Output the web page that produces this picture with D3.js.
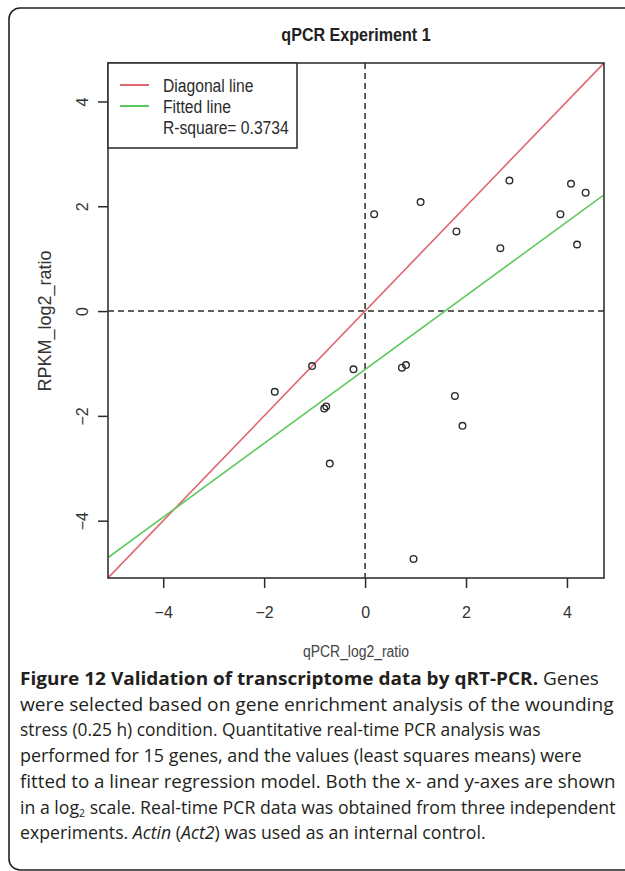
<!DOCTYPE html>
<html lang="en">
  <head>
    <meta charset="UTF-8" />
    <title>qPCR Experiment 1</title>
    <script src="https://cdn.jsdelivr.net/npm/d3@7"></script>
    <style>
      html, body { margin: 0; padding: 0; background: #fff; }
      svg { display: block; }
    </style>
  </head>
  <body>
    <div class="chart"></div>
    <script type="text/javascript">
      // qPCR log2 ratio (x) vs RPKM log2 ratio (y)
      var qpcrVals = [0.18, 1.10, 1.81, 2.86, 2.68, 3.87, 4.08, 4.37, 4.20, -1.05,
                      -0.23, 0.73, 0.81, 1.78, -1.79, -0.81, -0.77, 1.93, -0.70, 0.96]
      var rpkmVals = [1.85, 2.08, 1.52, 2.49, 1.20, 1.85, 2.43, 2.26, 1.27, -1.05,
                      -1.11, -1.08, -1.03, -1.62, -1.54, -1.86, -1.82, -2.19, -2.91, -4.73]
      var tickVals = [-4, -2, 0, 2, 4]
      var legendLabels = ['Diagonal line', 'Fitted line', 'R-square= 0.3734']
      var captionLines = [
        [['b', 'Figure 12 Validation of transcriptome data by qRT-PCR.'], ['n', ' Genes']],
        [['n', 'were selected based on gene enrichment analysis of the wounding']],
        [['n', 'stress (0.25 h) condition. Quantitative real-time PCR analysis was']],
        [['n', 'performed for 15 genes, and the values (least squares means) were']],
        [['n', 'fitted to a linear regression model. Both the x- and y-axes are shown']],
        [['n', 'in a log'], ['sub', '2'], ['n', ' scale. Real-time PCR data was obtained from three independent']],
        [['n', 'experiments. '], ['i', 'Actin'], ['n', ' ('], ['i', 'Act2'], ['n', ') was used as an internal control.']]
      ]
      // right edge of each caption line in the figure
      var captionEnds = [599, 614, 541, 582, 616, 616, 486]

      var W = 625, H = 871
      var plot = { left: 108, right: 604, top: 63, bottom: 578 }
      var ink = '#2b2b2b'
      var red = '#e0656f', green = '#5dc95d'
      var plotFont = '"Liberation Sans", Arial, sans-serif'

      var svg = d3.select('.chart').append('svg').attr('width', W).attr('height', H)

      // outer frame (right side runs off the page)
      svg.append('rect')
        .attr('x', 9).attr('y', 8).attr('width', 700).attr('height', 862)
        .attr('rx', 11).attr('fill', 'none').attr('stroke', '#222').attr('stroke-width', 1.6)

      // same limits on both axes, R style 4% padding
      var all = qpcrVals.concat(rpkmVals)
      var lo = d3.min(all), hi = d3.max(all), pad = (hi - lo) * 0.04
      var lims = [lo - pad, hi + pad]

      var x = d3.scaleLinear().domain(lims).range([plot.left, plot.right])
      var y = d3.scaleLinear().domain(lims).range([plot.bottom, plot.top])

      // least squares fit
      var mx = d3.mean(qpcrVals), my = d3.mean(rpkmVals)
      var sxy = d3.sum(qpcrVals, (v, i) => (v - mx) * (rpkmVals[i] - my))
      var sxx = d3.sum(qpcrVals, (v) => (v - mx) * (v - mx))
      var slope = sxy / sxx, icpt = my - slope * mx

      svg.append('clipPath').attr('id', 'plotClip').append('rect')
        .attr('x', plot.left).attr('y', plot.top)
        .attr('width', plot.right - plot.left).attr('height', plot.bottom - plot.top)

      var g = svg.append('g').attr('clip-path', 'url(#plotClip)')

      // reference lines at 0
      g.append('line')
        .attr('x1', x(0)).attr('x2', x(0)).attr('y1', plot.top).attr('y2', plot.bottom)
        .attr('stroke', ink).attr('stroke-width', 1.5).attr('stroke-dasharray', '6,4')
      g.append('line')
        .attr('x1', plot.left).attr('x2', plot.right).attr('y1', y(0)).attr('y2', y(0))
        .attr('stroke', ink).attr('stroke-width', 1.5).attr('stroke-dasharray', '6,4')

      // diagonal and fitted lines
      g.append('line')
        .attr('x1', x(lims[0])).attr('y1', y(lims[0])).attr('x2', x(lims[1])).attr('y2', y(lims[1]))
        .attr('stroke', red).attr('stroke-width', 1.6)
      g.append('line')
        .attr('x1', x(lims[0])).attr('y1', y(icpt + slope * lims[0]))
        .attr('x2', x(lims[1])).attr('y2', y(icpt + slope * lims[1]))
        .attr('stroke', green).attr('stroke-width', 1.6)

      // points
      g.selectAll('circle.pt')
        .data(qpcrVals.map((v, i) => [v, rpkmVals[i]]))
        .enter()
        .append('circle')
        .attr('class', 'pt')
        .attr('cx', (d) => x(d[0]))
        .attr('cy', (d) => y(d[1]))
        .attr('r', 3.3)
        .attr('fill', 'none')
        .attr('stroke', ink)
        .attr('stroke-width', 1.4)

      // axes
      var xAxis = svg.append('g')
        .attr('transform', `translate(0, ${plot.bottom})`)
        .call(d3.axisBottom(x).tickValues(tickVals).tickSize(10).tickPadding(19).tickFormat(d3.format('d')))
      var yAxis = svg.append('g')
        .attr('transform', `translate(${plot.left}, 0)`)
        .call(d3.axisLeft(y).tickValues(tickVals).tickSize(10).tickFormat(d3.format('d')))
      xAxis.select('.domain').remove()
      yAxis.select('.domain').remove()
      svg.selectAll('.tick line').attr('stroke', ink).attr('stroke-width', 1.5)
      svg.selectAll('.tick text')
        .attr('fill', '#333')
        .style('font-family', plotFont)
        .style('font-size', '16px')
      xAxis.selectAll('.tick text').attr('dy', '0.7em')
      yAxis.selectAll('.tick text')
        .attr('x', null).attr('dy', null)
        .attr('text-anchor', 'middle')
        .attr('transform', 'translate(-20, 0) rotate(-90)')

      // box
      svg.append('rect')
        .attr('x', plot.left).attr('y', plot.top)
        .attr('width', plot.right - plot.left).attr('height', plot.bottom - plot.top)
        .attr('fill', 'none').attr('stroke', '#333').attr('stroke-width', 1.6)

      // legend
      var lg = svg.append('g')
      lg.append('rect')
        .attr('x', plot.left).attr('y', plot.top).attr('width', 189).attr('height', 85)
        .attr('fill', '#fff').attr('stroke', '#333').attr('stroke-width', 1.6)
      var lgColors = [red, green, null]
      legendLabels.forEach((lab, i) => {
        var cy = 85 + i * 21
        if (lgColors[i]) {
          lg.append('line')
            .attr('x1', 120).attr('x2', 149).attr('y1', cy).attr('y2', cy)
            .attr('stroke', lgColors[i]).attr('stroke-width', 2)
        }
        lg.append('text')
          .attr('transform', `translate(163, ${cy + 7}) scale(0.87, 1)`)
          .attr('fill', ink)
          .style('font-family', plotFont)
          .style('font-size', '18px')
          .text(lab)
      })

      // titles
      svg.append('text')
        .attr('transform', `translate(${(plot.left + plot.right) / 2}, 41) scale(0.92, 1)`)
        .attr('text-anchor', 'middle')
        .attr('fill', '#222')
        .style('font-family', plotFont)
        .style('font-size', '17.5px')
        .style('font-weight', 'bold')
        .text('qPCR Experiment 1')
      svg.append('text')
        .attr('transform', `translate(${(plot.left + plot.right) / 2}, 657) scale(0.87, 1)`)
        .attr('text-anchor', 'middle')
        .attr('fill', '#444')
        .style('font-family', plotFont)
        .style('font-size', '16px')
        .text('qPCR_log2_ratio')
      svg.append('text')
        .attr('transform', 'translate(51, 321) rotate(-90)')
        .attr('text-anchor', 'middle')
        .attr('fill', '#333')
        .style('font-family', plotFont)
        .style('font-size', '18px')
        .text('RPKM_log2_ratio')

      // caption, each line fitted to its width in the figure
      var cap = svg.append('g')
        .style('font-family', '"Open Sans", "Noto Sans", sans-serif')
        .style('font-size', '18.5px')
        .attr('fill', '#231f20')
      captionLines.forEach((parts, i) => {
        var t = cap.append('text').attr('x', 0).attr('y', 0)
        var prevSub = false
        parts.forEach((p) => {
          var s = t.append('tspan').text(p[1])
          if (p[0] === 'b') s.style('font-weight', 'bold')
          if (p[0] === 'i') s.style('font-style', 'italic')
          if (p[0] === 'sub') s.attr('dy', 3).style('font-size', '11px')
          else if (prevSub) s.attr('dy', -3)
          prevSub = p[0] === 'sub'
        })
        var k = (captionEnds[i] - 20) / t.node().getComputedTextLength()
        t.attr('transform', `translate(20, ${685 + i * 25.7}) scale(${k}, 1)`)
      })
    </script>
  </body>
</html>
